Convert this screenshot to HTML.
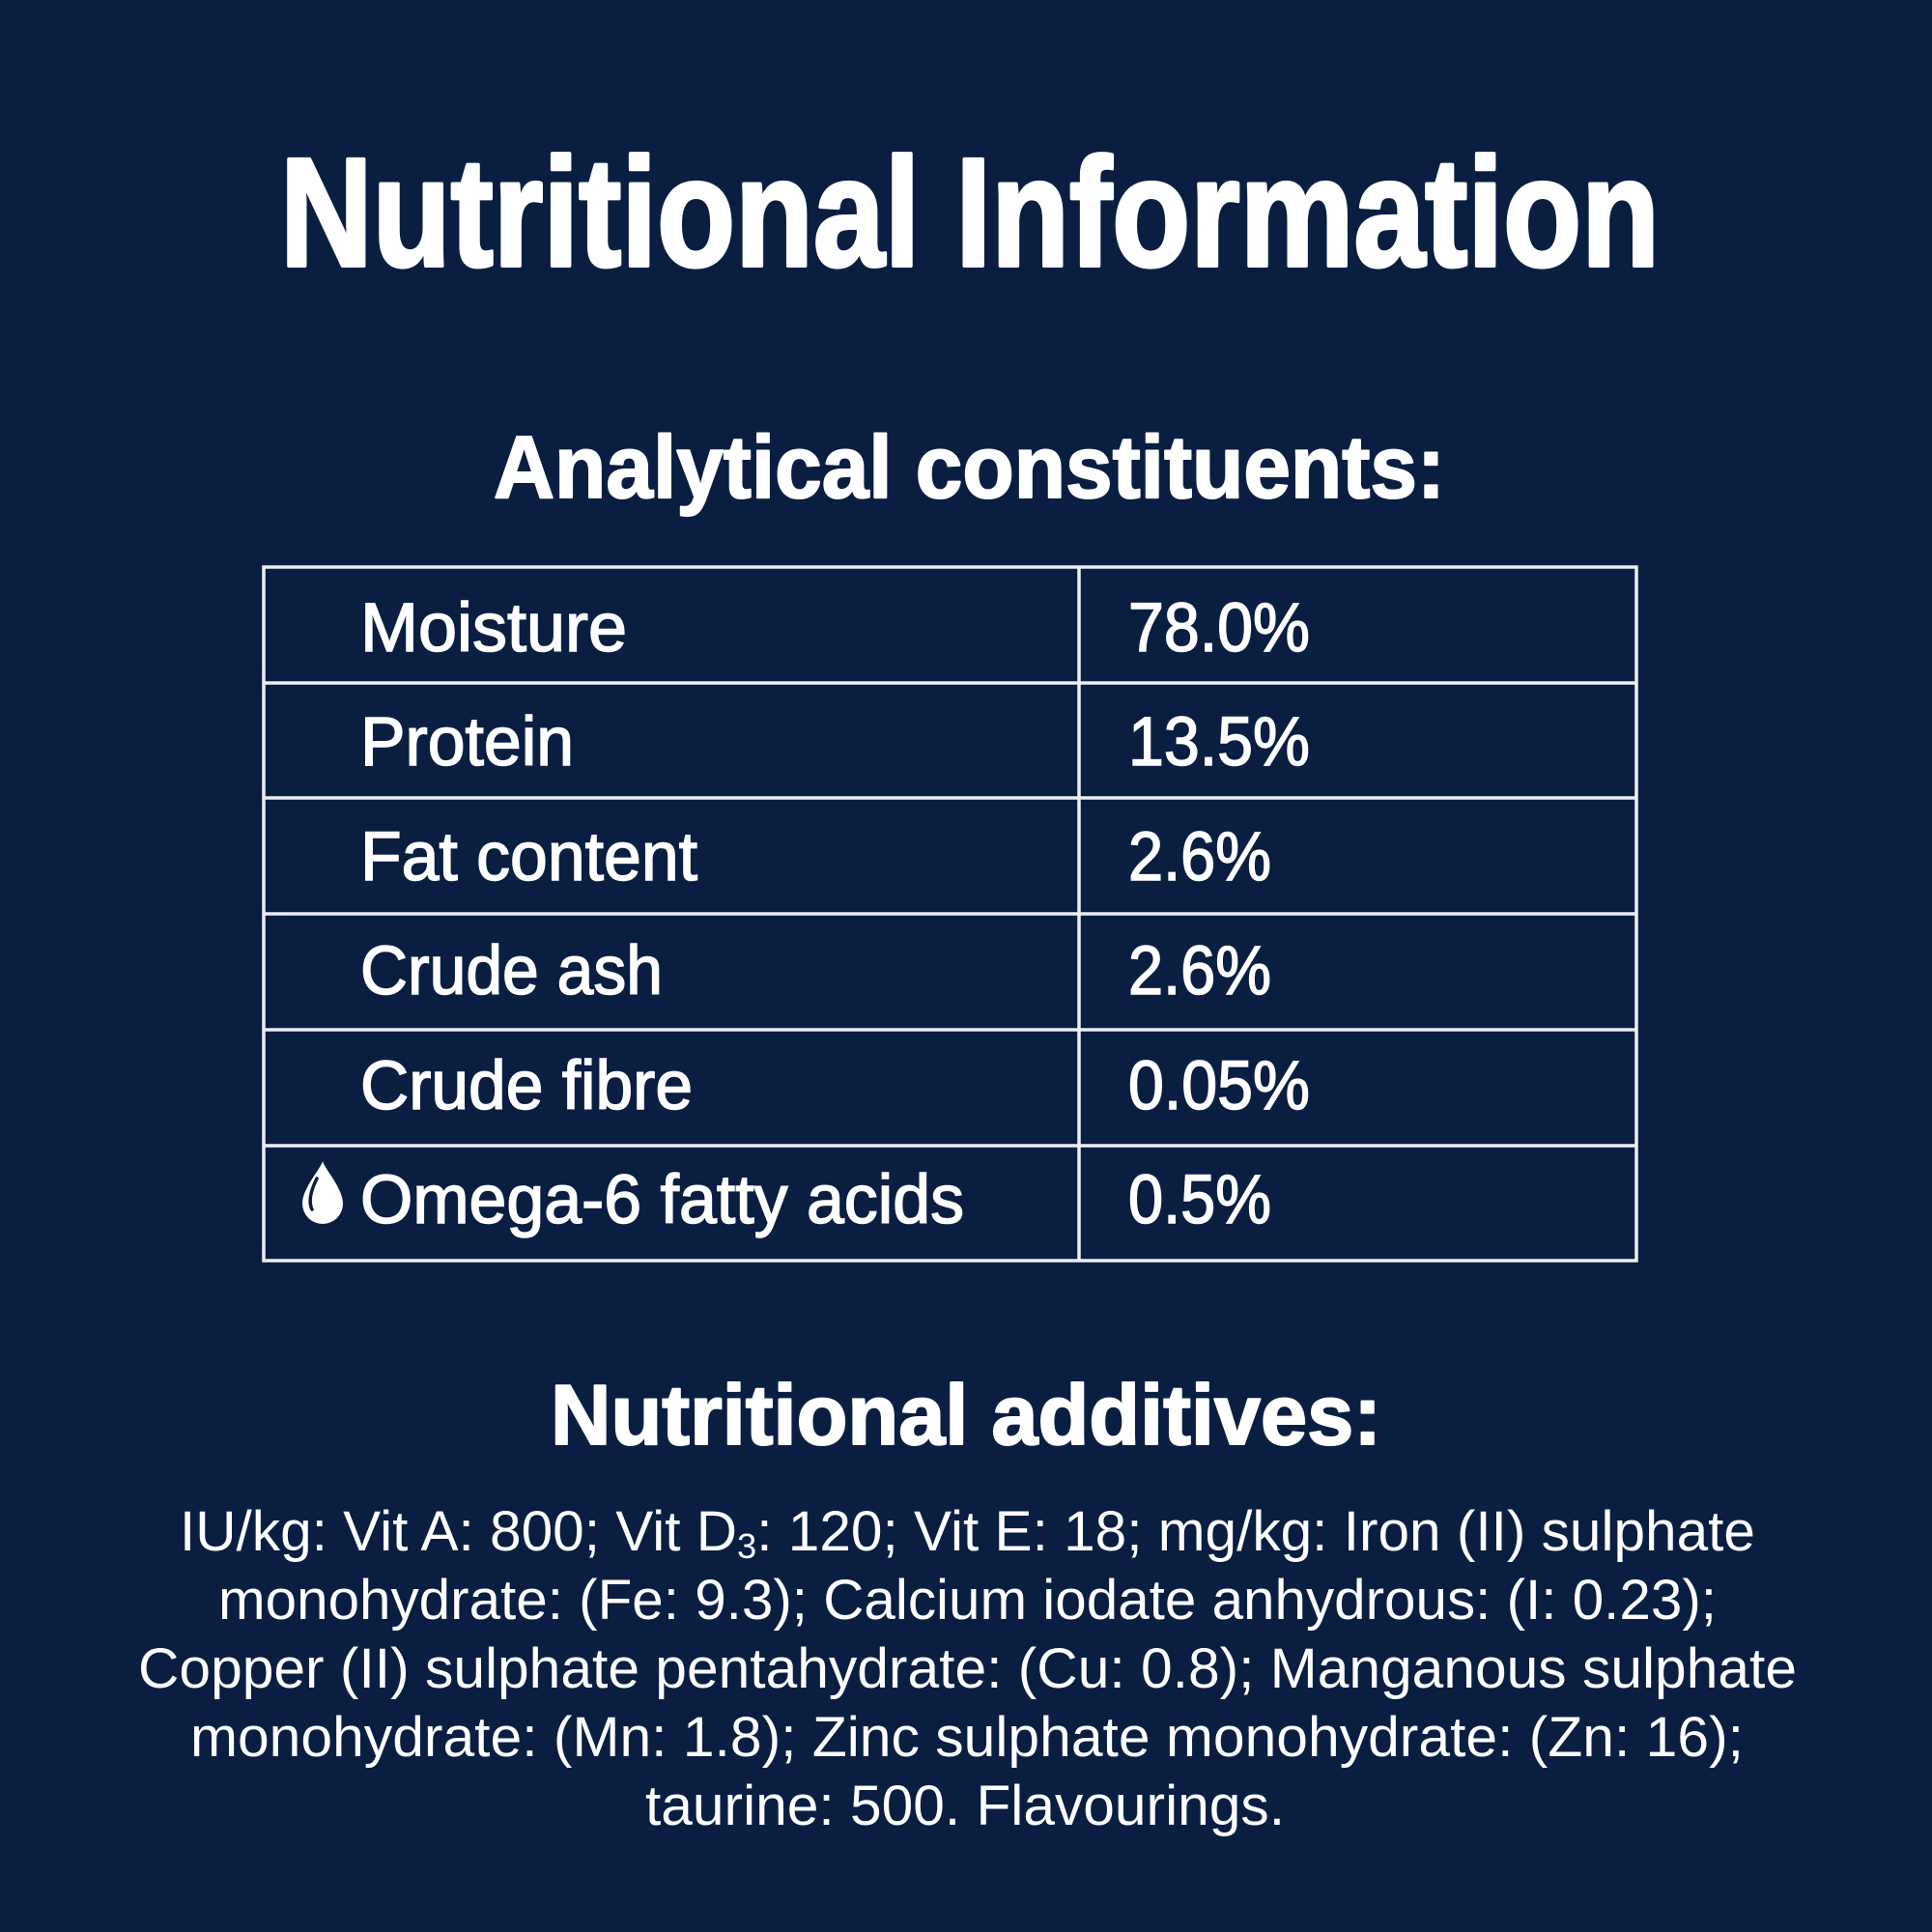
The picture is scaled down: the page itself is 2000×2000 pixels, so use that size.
<!DOCTYPE html>
<html>
<head>
<meta charset="utf-8">
<style>
html,body{margin:0;padding:0;background:#0a1e42;}
svg{display:block;}
text{fill:#ffffff;font-family:"Liberation Sans",Arial,sans-serif;}
</style>
</head>
<body>
<svg width="2000" height="2000" viewBox="0 0 2000 2000" xmlns="http://www.w3.org/2000/svg">
<rect x="0" y="0" width="2000" height="2000" fill="#0a1e42"/>

<!-- Title -->
<text x="290" y="275" font-size="160" font-weight="bold" textLength="1428" lengthAdjust="spacingAndGlyphs" stroke="#ffffff" stroke-width="4" stroke-linejoin="round">Nutritional Information</text>

<!-- Section heading -->
<text x="511" y="515" font-size="92" font-weight="bold" textLength="985" lengthAdjust="spacingAndGlyphs" stroke="#ffffff" stroke-width="2" stroke-linejoin="round">Analytical constituents:</text>

<!-- Table -->
<g stroke="#eceef3" stroke-width="3.5" fill="none">
<rect x="273" y="587" width="1421" height="718"/>
<line x1="1117" y1="587" x2="1117" y2="1305"/>
<line x1="273" y1="707" x2="1694" y2="707"/>
<line x1="273" y1="826" x2="1694" y2="826"/>
<line x1="273" y1="946" x2="1694" y2="946"/>
<line x1="273" y1="1066" x2="1694" y2="1066"/>
<line x1="273" y1="1186" x2="1694" y2="1186"/>
</g>

<g font-size="71" stroke="#ffffff" stroke-width="1.5">
<text x="373" y="674" textLength="276" lengthAdjust="spacingAndGlyphs">Moisture</text>
<text x="373" y="792" textLength="221" lengthAdjust="spacingAndGlyphs">Protein</text>
<text x="373" y="911" textLength="349" lengthAdjust="spacingAndGlyphs">Fat content</text>
<text x="373" y="1029" textLength="313" lengthAdjust="spacingAndGlyphs">Crude ash</text>
<text x="373" y="1148" textLength="344" lengthAdjust="spacingAndGlyphs">Crude fibre</text>
<text x="373" y="1266" textLength="625" lengthAdjust="spacingAndGlyphs">Omega-6 fatty acids</text>

<text x="1168" y="674" textLength="188" lengthAdjust="spacingAndGlyphs">78.0%</text>
<text x="1168" y="792" textLength="188" lengthAdjust="spacingAndGlyphs">13.5%</text>
<text x="1168" y="911" textLength="148" lengthAdjust="spacingAndGlyphs">2.6%</text>
<text x="1168" y="1029" textLength="148" lengthAdjust="spacingAndGlyphs">2.6%</text>
<text x="1168" y="1148" textLength="188" lengthAdjust="spacingAndGlyphs">0.05%</text>
<text x="1168" y="1266" textLength="148" lengthAdjust="spacingAndGlyphs">0.5%</text>
</g>

<!-- Drop icon -->
<path d="M334,1202 C332,1210 313,1230 313,1246 A21,21 0 0 0 355,1246 C355,1230 336,1210 334,1202 Z" fill="#ffffff"/>
<path d="M328,1220 C322,1232 319,1244 323,1252" stroke="#0a1e42" stroke-width="3.5" fill="none" stroke-linecap="round"/>

<!-- Additives heading -->
<text x="570" y="1495" font-size="88" font-weight="bold" textLength="860" lengthAdjust="spacingAndGlyphs" stroke="#ffffff" stroke-width="2" stroke-linejoin="round">Nutritional additives:</text>

<!-- Paragraph -->
<g font-size="58">
<text x="186" y="1605" textLength="1631" lengthAdjust="spacingAndGlyphs">IU/kg: Vit A: 800; Vit D<tspan font-size="36" dy="8">3</tspan><tspan dy="-8">: 120; Vit E: 18; mg/kg: Iron (II) sulphate</tspan></text>
<text x="226" y="1676" textLength="1551" lengthAdjust="spacingAndGlyphs">monohydrate: (Fe: 9.3); Calcium iodate anhydrous: (I: 0.23);</text>
<text x="143" y="1747" textLength="1717" lengthAdjust="spacingAndGlyphs">Copper (II) sulphate pentahydrate: (Cu: 0.8); Manganous sulphate</text>
<text x="197" y="1818" textLength="1608" lengthAdjust="spacingAndGlyphs">monohydrate: (Mn: 1.8); Zinc sulphate monohydrate: (Zn: 16);</text>
<text x="668" y="1889" textLength="662" lengthAdjust="spacingAndGlyphs">taurine: 500. Flavourings.</text>
</g>
</svg>
</body>
</html>
